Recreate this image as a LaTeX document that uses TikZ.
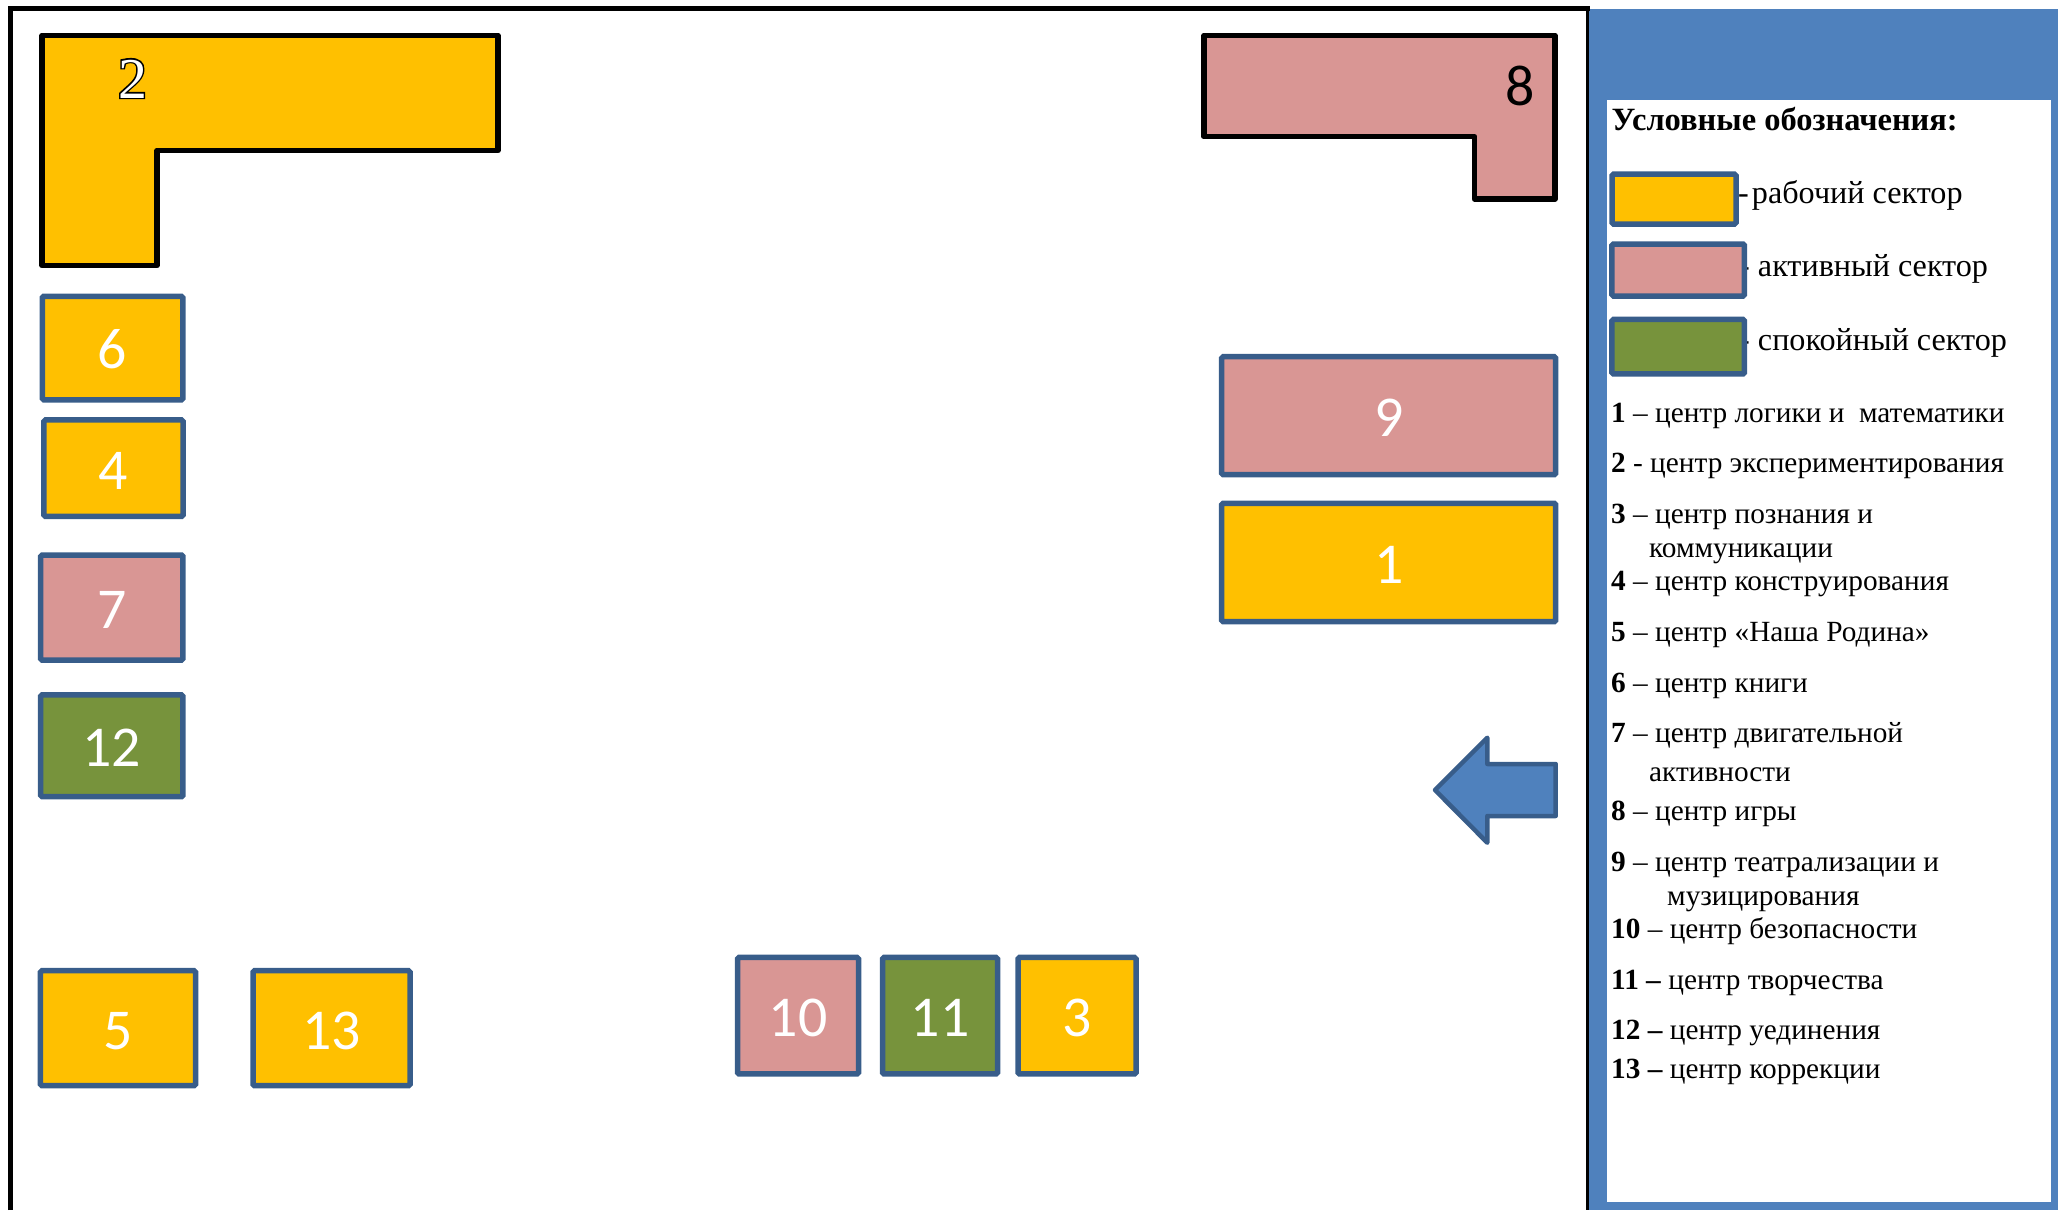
\documentclass[tikz,border=0pt]{standalone}
\usepackage{fontspec}
\setmainfont{Liberation Serif}
\newfontfamily\digitfont{Carlito}
\newfontfamily\outlinefont{Liberation Serif}[FakeBold=5]
\usepackage{xcolor}
\usetikzlibrary{positioning}
\definecolor{sectoryellow}{RGB}{255, 192, 0}
\definecolor{sectorpink}{RGB}{217, 150, 148}
\definecolor{sectorgreen}{RGB}{119, 147, 60}
\definecolor{panelblue}{RGB}{79, 129, 189}
\definecolor{borderblue}{RGB}{56, 93, 138}

\begin{document}
\begin{tikzpicture}[
    x=1bp, y=-1bp,
    sector/.style={
        rectangle, rounded corners=1.5bp,
        draw=borderblue, fill=#1,
        line width=5.5bp, inner sep=0pt, outer sep=0pt,
        text=white, text height=42bp, font=\fontsize{58}{58}\selectfont\digitfont
    },
    cornerzone/.style={
        draw=black, fill=#1,
        line width=5.5bp, line join=round
    },
    zonelabel/.style={
        inner sep=0pt, font=\fontsize{58}{58}\selectfont\digitfont
    },
    legendtext/.style={
        anchor=base west, inner sep=0pt,
        font=\fontsize{29.4}{29.4}\selectfont
    },
    sectortext/.style={
        anchor=base west, inner sep=0pt,
        font=\fontsize{32.3}{32.3}\selectfont
    },
    swatch/.style={
        rectangle, rounded corners=1.5bp,
        draw=borderblue, fill=#1,
        line width=5.5bp, inner sep=0pt, outer sep=0pt
    }
]
\useasboundingbox (0,0) rectangle (2058,1210);

% ==============================================================================
% ROOM FRAME AND LEGEND PANEL
% ==============================================================================
\fill[panelblue] (1589,9) rectangle (2058,1210);
\fill[white] (1607,100) rectangle (2051,1202);
\draw[line width=5.5bp] (10.5,1210) -- (10.5,8.5) -- (1590,8.5);
\draw[line width=3bp] (1587.3,8.5) -- (1587.3,1210);

% ==============================================================================
% CORNER ZONES
% ==============================================================================
\draw[cornerzone=sectoryellow] (42,35.5) -- (498,35.5) -- (498,150.5) -- (157,150.5)
    -- (157,265.5) -- (42,265.5) -- cycle;
\node[inner sep=0pt, text=black, font=\fontsize{58}{58}\selectfont\outlinefont] (zone2outline) at (132.5,78.5) {2};
\node[inner sep=0pt, text=white, font=\fontsize{58}{58}\selectfont] (zone2) at (133.3,79) {2};

\draw[cornerzone=sectorpink] (1204,35.5) -- (1555,35.5) -- (1555,199) -- (1474.5,199)
    -- (1474.5,136.7) -- (1204,136.7) -- cycle;
\node[zonelabel, text=black] (zone8) at (1520,86) {8};

% ==============================================================================
% CENTRES ALONG THE WALLS
% ==============================================================================
\node[sector=sectoryellow, minimum width=140.5bp, minimum height=103.5bp] (zone6) at (112.6,348) {6};
\node[sector=sectoryellow, minimum width=139bp, minimum height=96.5bp] (zone4) at (113.5,468.2) {4};
\node[sector=sectorpink, minimum width=142.3bp, minimum height=105bp] (zone7) at (111.8,607.5) {7};
\node[sector=sectorgreen, minimum width=142.3bp, minimum height=101.7bp] (zone12) at (111.8,745.8) {12};

\node[sector=sectorpink, minimum width=334bp, minimum height=118bp] (zone9) at (1388.7,415.7) {9};
\node[sector=sectoryellow, minimum width=334bp, minimum height=118.4bp] (zone1) at (1388.7,562.5) {1};

\node[sector=sectoryellow, minimum width=155bp, minimum height=115bp] (zone5) at (118,1028.2) {5};
\node[sector=sectoryellow, minimum width=157bp, minimum height=115bp] (zone13) at (331.5,1028.2) {13};

\node[sector=sectorpink, minimum width=121bp, minimum height=116.5bp] (zone10) at (798,1015.7) {10};
\node[sector=sectorgreen, minimum width=115bp, minimum height=116.5bp] (zone11) at (940,1015.7) {11};
\node[sector=sectoryellow, minimum width=118bp, minimum height=116.5bp] (zone3) at (1077,1015.7) {3};

% entrance arrow
\draw[draw=borderblue, fill=panelblue, line width=4.5bp, line join=round] (1435,790) -- (1487.3,737.7)
    -- (1487.3,764) -- (1555.7,764) -- (1555.7,816) -- (1487.3,816) -- (1487.3,842.7) -- cycle;

% ==============================================================================
% LEGEND: SECTORS
% ==============================================================================
\node[anchor=base west, inner sep=0pt, font=\fontsize{32.6}{32.6}\selectfont\bfseries] (legendtitle) at (1611.5,130) {Условные обозначения:};

\node[sectortext] (worktext) at (1738,203) {-\kern-5bp\ рабочий сектор};
\node[sectortext] (activetext) at (1739,276) {- активный сектор};
\node[sectortext] (calmtext) at (1739,350) {- спокойный сектор};

\node[swatch=sectoryellow, minimum width=124bp, minimum height=49.8bp] (workswatch) at (1674,199.1) {};
\node[swatch=sectorpink, minimum width=132.5bp, minimum height=52bp] (activeswatch) at (1678.2,270) {};
\node[swatch=sectorgreen, minimum width=132.5bp, minimum height=54.5bp] (calmswatch) at (1678.2,346.7) {};

% ==============================================================================
% LEGEND: CENTRES
% ==============================================================================
\node[legendtext] (item1) at (1611,422.5) {\textbf{1} – центр логики и \ математики};
\node[legendtext] (item2) at (1611,472.5) {\textbf{2} - центр экспериментирования};
\node[legendtext] (item3) at (1611,523.5) {\textbf{3} – центр познания и};
\node[legendtext] (item3b) at (1649,557.5) {коммуникации};
\node[legendtext] (item4) at (1611,590.5) {\textbf{4} – центр конструирования};
\node[legendtext] (item5) at (1611,641) {\textbf{5} – центр «Наша Родина»};
\node[legendtext] (item6) at (1611,692.5) {\textbf{6} – центр книги};
\node[legendtext] (item7) at (1611,742.5) {\textbf{7} – центр двигательной};
\node[legendtext] (item7b) at (1649,781) {активности};
\node[legendtext] (item8) at (1611,820.5) {\textbf{8} – центр игры};
\node[legendtext] (item9) at (1611,871) {\textbf{9} – центр театрализации и};
\node[legendtext] (item9b) at (1667,905) {музицирования};
\node[legendtext] (item10) at (1611,938) {\textbf{10} – центр безопасности};
\node[legendtext] (item11) at (1611,989) {\textbf{11 –} центр творчества};
\node[legendtext] (item12) at (1611,1039) {\textbf{12 –} центр уединения};
\node[legendtext] (item13) at (1611,1078) {\textbf{13 –} центр коррекции};

\end{tikzpicture}
\end{document}
